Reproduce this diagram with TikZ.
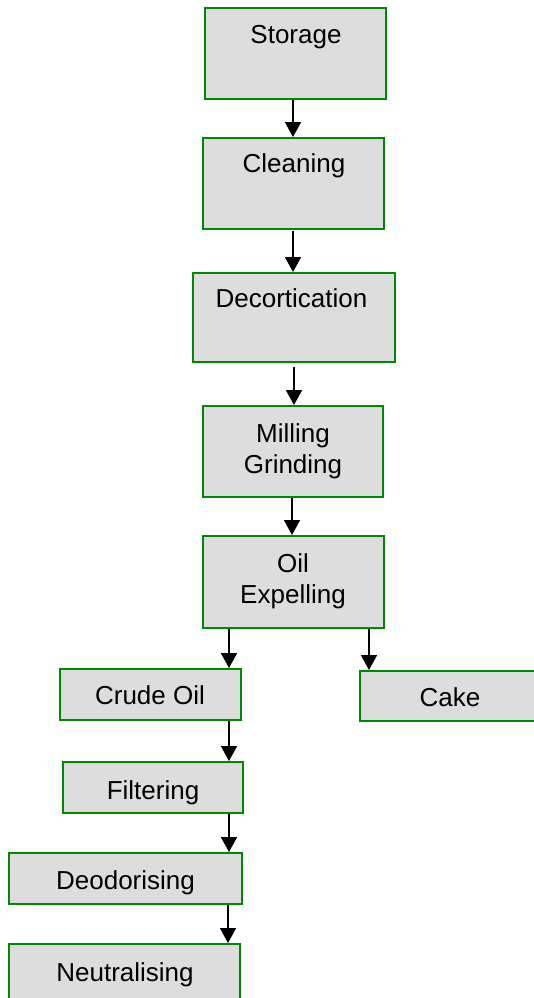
\documentclass[tikz,border=0pt]{standalone}
\usepackage{fontspec}
\setmainfont{Liberation Sans}
\usetikzlibrary{arrows.meta}
\definecolor{boxgreen}{HTML}{008800}
\definecolor{boxfill}{HTML}{DDDDDD}
\begin{document}
\begin{tikzpicture}[x=1pt,y=-1pt,
  box/.style={draw=boxgreen, fill=boxfill, line width=2pt, inner sep=0pt, rectangle},
  lbl/.style={anchor=base, inner sep=0pt, align=center, font=\fontsize{26}{31}\selectfont},
  arr/.style={line width=1.8pt, -{Triangle[width=16pt,length=15pt]}}]
\useasboundingbox (0,0) rectangle (534,998);
% boxes
\node[box, minimum width=181pt, minimum height=91pt] (storage) at (295.5,53.5) {};
\node[box, minimum width=181pt, minimum height=91pt] (cleaning) at (293.5,183.5) {};
\node[box, minimum width=202pt, minimum height=89pt] (decort) at (294,317.5) {};
\node[box, minimum width=180pt, minimum height=91pt] (milling) at (293,451.5) {};
\node[box, minimum width=181pt, minimum height=92pt] (oil) at (293.5,582) {};
\node[box, minimum width=181pt, minimum height=51pt] (crude) at (150.5,694.5) {};
\node[box, minimum width=184pt, minimum height=50pt] (cake) at (452,696) {};
\node[box, minimum width=180pt, minimum height=51pt] (filter) at (153,787.5) {};
\node[box, minimum width=233pt, minimum height=51pt] (deodor) at (125.5,878.5) {};
\node[box, minimum width=231pt, minimum height=60pt] (neutral) at (124.5,974) {};
% labels
\node[lbl] (tstorage) at (296,44) {Storage};
\node[lbl] (tcleaning) at (294,172) {Cleaning};
\node[lbl] (tdecort) at (291.5,307) {Decortication};
\node[lbl] (tmilling) at (293,473) {Milling\\Grinding};
\node[lbl] (toil) at (293,603) {Oil\\Expelling};
\node[lbl] (tcrude) at (150,704) {Crude Oil};
\node[lbl] (tcake) at (450,706) {Cake};
\node[lbl] (tfilter) at (153,799) {Filtering};
\node[lbl] (tdeodor) at (125.5,889) {Deodorising};
\node[lbl] (tneutral) at (125,981) {Neutralising};
% arrows
\draw[arr] ([xshift=-2.5pt]storage.south) -- ([xshift=-0.5pt]cleaning.north);
\draw[arr] ([xshift=-0.5pt,yshift=-1pt]cleaning.south) -- ([xshift=-1pt]decort.north);
\draw[arr] ([yshift=-4pt]decort.south) -- ([xshift=1pt]milling.north);
\draw[arr] ([xshift=-1pt]milling.south) -- ([xshift=-1.5pt]oil.north);
\draw[arr] ([xshift=-64.5pt]oil.south) -- ([xshift=78.5pt]crude.north);
\draw[arr] ([xshift=75.5pt]oil.south) -- ([xshift=-83pt]cake.north);
\draw[arr] ([xshift=78.5pt]crude.south) -- ([xshift=76pt]filter.north);
\draw[arr] ([xshift=76pt]filter.south) -- ([xshift=103.5pt]deodor.north);
\draw[arr] ([xshift=102.5pt]deodor.south) -- ([xshift=103.5pt]neutral.north);
\end{tikzpicture}
\end{document}
